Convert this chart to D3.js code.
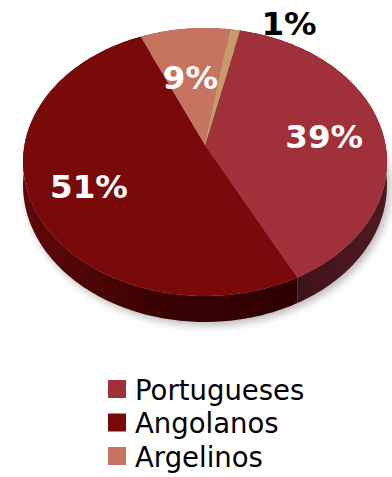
<!DOCTYPE html>
<html>
<head>
<meta charset="utf-8">
<script src="https://cdn.jsdelivr.net/npm/d3@7"></script>
<style>
  html, body { margin: 0; padding: 0; background: #fff; }
  svg { display: block; }
</style>
</head>
<body>
<svg id="chart" width="392" height="477"></svg>
<script>
// Slice data (percent)
const categories = ["Portugueses", "Angolanos", "Argelinos", "Outros"];
const values = [39, 51, 9, 1];
const labels = ["39%", "51%", "9%", "1%"];
const topColors = ["#A0303A", "#7A0A0A", "#C6745F", "#C89A6A"];
const legendItems = ["Portugueses", "Angolanos", "Argelinos"];

const svg = d3.select("#chart");
const defs = svg.append("defs");

// Tilted disc with a little perspective: near edge is taller than far edge.
const cx = 205, cy = 145;      // projected centre of the disc
const b = 180.5, a = 131.8;    // horizontal / vertical radii before perspective
const k = 0.127;               // perspective strength
const depth = 22.7;            // thickness of the disc

function proj(r, theta, z) {
  const u = r * Math.sin(theta), v = -r * Math.cos(theta);
  const w = 1 - k * v;
  return [cx + b * u / w, cy + (a * v + z) / w];
}

function arcPoints(a0, a1, z) {
  const n = Math.max(2, Math.ceil(Math.abs(a1 - a0) / (Math.PI / 180)));
  return d3.range(n + 1).map(i => proj(1, a0 + (a1 - a0) * i / n, z));
}

const line = d3.line();
const startAngle = 12.6 * Math.PI / 180;
const pie = d3.pie().sort(null).value(d => d)
  .startAngle(startAngle).endAngle(startAngle + 2 * Math.PI);
const arcs = pie(values);

// soft drop shadow under the disc
const blur = defs.append("filter").attr("id", "shadowBlur")
  .attr("x", "-20%").attr("y", "-20%").attr("width", "140%").attr("height", "140%");
blur.append("feGaussianBlur").attr("stdDeviation", 4);
svg.append("path")
  .attr("d", line(arcPoints(0, 2 * Math.PI, depth + 3)) + "Z")
  .attr("transform", "translate(3,0)")
  .attr("fill", "#000").attr("opacity", 0.28)
  .attr("filter", "url(#shadowBlur)");

// side wall gradients
const wallStops = [
  [["0%", "#3E1118"], ["100%", "#4E1A22"]],
  [["0%", "#600808"], ["45%", "#3C0202"], ["100%", "#2E0000"]],
  [["0%", "#7A3A2C"], ["100%", "#7A3A2C"]],
  [["0%", "#6A4A30"], ["100%", "#6A4A30"]]
];
const wallRange = [[290, 390], [23, 300], [23, 390], [23, 390]];
wallStops.forEach((stops, i) => {
  const g = defs.append("linearGradient").attr("id", "wall" + i)
    .attr("gradientUnits", "userSpaceOnUse")
    .attr("x1", wallRange[i][0]).attr("x2", wallRange[i][1])
    .attr("y1", 0).attr("y2", 0);
  stops.forEach(s => g.append("stop").attr("offset", s[0]).attr("stop-color", s[1]));
});

// walls, back to front (by depth of the slice's mid angle)
const nearness = d => -Math.cos((d.startAngle + d.endAngle) / 2);
const wallOrder = arcs.map((d, i) => ({ d, i }))
  .sort((p, q) => nearness(p.d) - nearness(q.d));
svg.append("g").selectAll("path")
  .data(wallOrder)
  .join("path")
  .attr("d", ({ d }) => {
    const top = arcPoints(d.startAngle, d.endAngle, 0);
    const bottom = arcPoints(d.endAngle, d.startAngle, depth);
    return line(top.concat(bottom)) + "Z";
  })
  .attr("fill", ({ i }) => `url(#wall${i})`);

// top faces
svg.append("g").selectAll("path")
  .data(arcs)
  .join("path")
  .attr("d", d => line([proj(0, 0, 0)].concat(arcPoints(d.startAngle, d.endAngle, 0))) + "Z")
  .attr("fill", (d, i) => topColors[i]);

// percentage labels
const labelRadius = [0.65, 0.65, 0.55, 1.0];
const labelNudge = [[4, 3], [-6, 4], [-3, 0], [54, -6]];
const labelFill = ["#fff", "#fff", "#fff", "#000"];
svg.append("g").selectAll("text")
  .data(arcs)
  .join("text")
  .attr("x", (d, i) => proj(labelRadius[i], (d.startAngle + d.endAngle) / 2, 0)[0] + labelNudge[i][0])
  .attr("y", (d, i) => proj(labelRadius[i], (d.startAngle + d.endAngle) / 2, 0)[1] + labelNudge[i][1])
  .attr("text-anchor", "middle")
  .attr("dominant-baseline", "central")
  .attr("font-family", "DejaVu Sans, Verdana, sans-serif")
  .attr("font-weight", "bold")
  .attr("font-size", 32.5)
  .attr("fill", (d, i) => labelFill[i])
  .text((d, i) => labels[i]);

// legend
const legend = svg.append("g").attr("transform", "translate(108,380)");
const row = legend.selectAll("g")
  .data(legendItems)
  .join("g")
  .attr("transform", (d, i) => `translate(0,${i * 33.5})`);
row.append("rect")
  .attr("width", 18).attr("height", 18)
  .attr("fill", (d, i) => topColors[i]);
row.append("text")
  .attr("x", 27).attr("y", 19.5)
  .attr("font-family", "DejaVu Sans, Verdana, sans-serif")
  .attr("font-size", 27.5)
  .attr("fill", "#000")
  .text(d => d);
</script>
</body>
</html>
